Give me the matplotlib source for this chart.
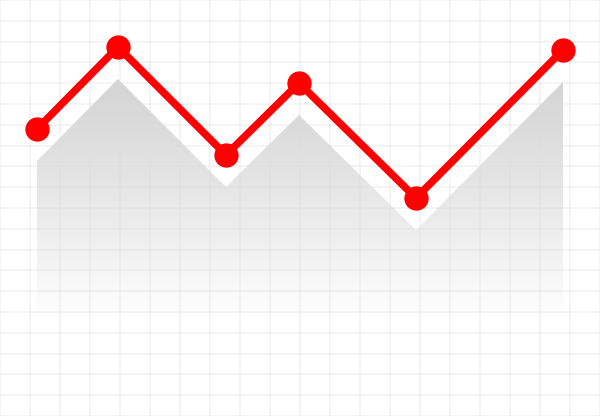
import numpy as np
import matplotlib
matplotlib.use("Agg")
import matplotlib.pyplot as plt
from matplotlib.patches import Polygon

# data (x position, value)
x_vals = [37, 118, 226, 299, 416, 563]
y_vals = [287, 369, 261, 333, 218, 366]
shadow_offset = 32

W, H = 600, 416
fig = plt.figure(figsize=(6.0, 4.16), dpi=100)
ax = fig.add_axes([0, 0, 1, 1])
ax.set_xlim(0, W)
ax.set_ylim(0, H)
ax.axis("off")
fig.patch.set_facecolor("white")

# gradient shadow area
sy = [v - shadow_offset for v in y_vals]
top = max(sy)
bottom_fade = 100
vals = np.clip((np.linspace(0, H, 256) - bottom_fade) / (top - bottom_fade), 0, 1)
gray = 1 - 0.17 * vals ** 0.9
img = np.dstack([gray, gray, gray]).reshape(256, 1, 3)
im = ax.imshow(img, extent=[0, W, 0, H], origin="lower", aspect="auto", zorder=1)
poly = Polygon(list(zip(x_vals, sy)) + [(x_vals[-1], 0), (x_vals[0], 0)],
               closed=True, transform=ax.transData, facecolor="none", edgecolor="none")
ax.add_patch(poly)
im.set_clip_path(poly)

# grid
for gx in np.arange(0, W + 1, 30):
    ax.axvline(gx, color="#dcdcdc", lw=1.4, alpha=0.3, zorder=2)
for gy in np.linspace(0, H, 21):
    ax.axhline(gy, color="#dcdcdc", lw=1.4, alpha=0.3, zorder=2)

# red line
ax.plot(x_vals, y_vals, color="#ff0000", lw=5.4, solid_joinstyle="miter",
        marker="o", markersize=16.5, zorder=3, solid_capstyle="butt")

fig.savefig("out.png", dpi=100, facecolor="white")
